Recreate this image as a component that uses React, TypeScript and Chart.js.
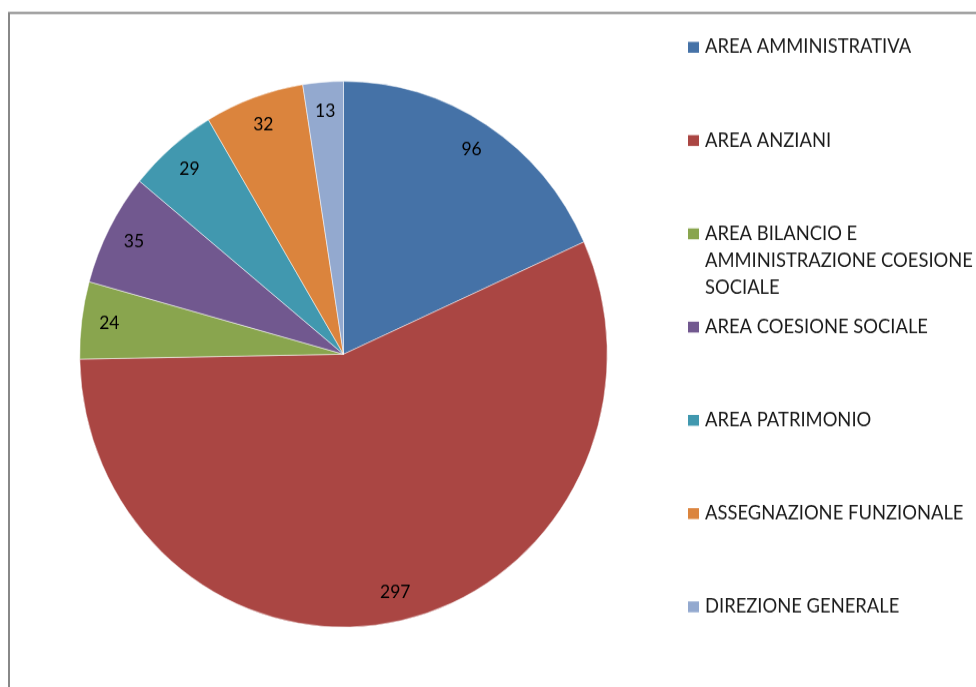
import React, { useEffect, useRef } from "react";
import { Chart, registerables } from "chart.js";

Chart.register(...registerables);

const categories: string[][] = [
  ["AREA AMMINISTRATIVA"],
  ["AREA ANZIANI"],
  ["AREA BILANCIO E", "AMMINISTRAZIONE COESIONE", "SOCIALE"],
  ["AREA COESIONE SOCIALE"],
  ["AREA PATRIMONIO"],
  ["ASSEGNAZIONE FUNZIONALE"],
  ["DIREZIONE GENERALE"],
];
const values: number[] = [96, 297, 24, 35, 29, 32, 13];
const colors: string[] = ["#4572A7", "#AA4643", "#89A54E", "#71588F", "#4198AF", "#DB843D", "#93A9CF"];

const W = 976;
const H_CSS = 687;
const SY = 1.034; // vertical stretch of the original picture
const H = Math.round(H_CSS / SY);

const LEGEND_FONT = "18.4px Lato";
const LABEL_FONT = "17.5px Lato";

const framePlugin = {
  id: "frame",
  beforeDraw(chart: any) {
    const ctx = chart.ctx;
    ctx.save();
    ctx.strokeStyle = "#888888";
    ctx.lineWidth = 2;
    ctx.beginPath();
    ctx.moveTo(9, 700);
    ctx.lineTo(9, 13 / SY);
    ctx.lineTo(990, 13 / SY);
    ctx.stroke();
    ctx.restore();
  },
};

const labelPlugin = {
  id: "sliceLabels",
  afterDatasetsDraw(chart: any) {
    const ctx = chart.ctx;
    const meta = chart.getDatasetMeta(0);
    ctx.save();
    ctx.font = LABEL_FONT;
    ctx.fillStyle = "#000000";
    ctx.textAlign = "center";
    ctx.textBaseline = "middle";
    meta.data.forEach((arc: any, i: number) => {
      const mid = (arc.startAngle + arc.endAngle) / 2;
      const r = arc.outerRadius * 0.895;
      const x = arc.x + Math.cos(mid) * r;
      const y = arc.y + Math.sin(mid) * r;
      ctx.fillText(String(chart.data.datasets[0].data[i]), x, y);
    });
    ctx.restore();
  },
};

const legendPlugin = {
  id: "customLegend",
  afterDraw(chart: any) {
    const ctx = chart.ctx;
    ctx.save();
    ctx.font = LEGEND_FONT;
    ctx.textAlign = "left";
    ctx.textBaseline = "middle";
    const x0 = 688;
    const y0 = 47 / SY;
    const step = 93.2 / SY;
    const lineH = 27 / SY;
    categories.forEach((lines, i) => {
      const y = y0 + i * step;
      ctx.fillStyle = colors[i];
      ctx.fillRect(x0, y - 5, 11, 10.5);
      ctx.fillStyle = "#1a1a1a";
      lines.forEach((ln, j) => {
        ctx.fillText(ln, x0 + 17, y + j * lineH);
      });
    });
    ctx.restore();
  },
};

export default function App() {
  const ref = useRef<HTMLCanvasElement | null>(null);
  useEffect(() => {
    document.body.style.margin = "0";
    const cx = 343.5;
    const cy = 354 / SY;
    const r = 264;
    const chart = new Chart(ref.current as HTMLCanvasElement, {
      type: "pie",
      data: {
        labels: categories.map((l) => l.join(" ")),
        datasets: [
          {
            data: values,
            backgroundColor: colors,
            borderColor: "#ffffff",
            borderWidth: 0.5,
          },
        ],
      },
      options: {
        animation: false,
        responsive: false,
        maintainAspectRatio: false,
        layout: {
          padding: { left: cx - r, right: W - (cx + r), top: cy - r, bottom: H - (cy + r) },
        },
        plugins: {
          legend: { display: false },
          tooltip: { enabled: false },
        },
      },
      plugins: [framePlugin, labelPlugin, legendPlugin],
    });
    return () => chart.destroy();
  }, []);
  return (
    <div style={{ width: W, height: H_CSS, background: "#ffffff", overflow: "hidden" }}>
      <canvas ref={ref} width={W} height={H} style={{ display: "block", width: W, height: H_CSS }} />
    </div>
  );
}
